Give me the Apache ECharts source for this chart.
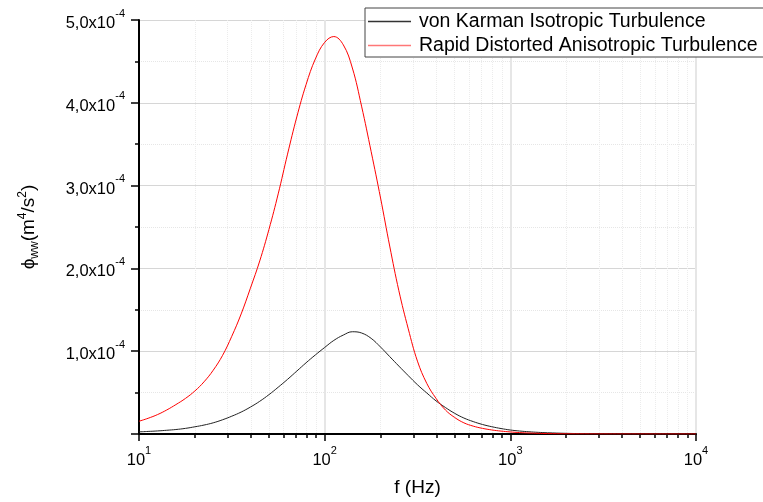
<!DOCTYPE html>
<html>
<head>
<meta charset="utf-8">
<script src="https://cdn.jsdelivr.net/npm/echarts@6/dist/echarts.min.js"></script>
<style>html,body{margin:0;padding:0;background:#fff}#c{width:763px;height:502px}</style>
</head>
<body>
<div id="c"></div>
<script>
// frequencies (Hz)
const freqs = [10,11.2,12.6,14.1,15.8,17.8,20,22.4,25.1,28.2,31.6,35.5,39.8,44.7,50.1,56.2,63.1,70.8,79.4,89.1,
  100,112,126,141,158,178,200,224,251,282,316,355,398,447,501,562,631,708,794,891,
  1000,1122,1259,1413,1585,1995,2512,3162,3981,6310,10000];
// values in units of 1e-4 m^4/s^2
const vonKarman = [0.026,0.031,0.037,0.045,0.054,0.068,0.087,0.108,0.135,0.172,0.215,0.265,0.325,0.395,0.475,0.565,0.66,0.76,0.86,0.955,
  1.045,1.13,1.195,1.235,1.22,1.155,1.05,0.935,0.82,0.705,0.595,0.495,0.40,0.32,0.25,0.193,0.15,0.115,0.088,0.066,
  0.048,0.036,0.027,0.02,0.015,0.008,0.004,0.002,0.001,0.0003,0.0001];
const rapidDistorted = [0.154,0.19,0.235,0.29,0.355,0.43,0.52,0.63,0.77,0.95,1.18,1.45,1.76,2.09,2.47,2.9,3.38,3.83,4.22,4.53,
  4.73,4.80,4.70,4.42,3.96,3.41,2.85,2.27,1.73,1.27,0.88,0.61,0.43,0.29,0.20,0.135,0.095,0.068,0.049,0.035,
  0.025,0.017,0.012,0.008,0.005,0.002,0.001,0.0004,0.0001,0,0];
const seriesNames = ['von Karman Isotropic Turbulence','Rapid Distorted Anisotropic Turbulence'];
const yTickText = {1:'1,0',2:'2,0',3:'3,0',4:'4,0',5:'5,0'};
const xTickText = {10:'1',100:'2',1000:'3',10000:'4'};

const FONT = 'Liberation Sans, Arial, sans-serif';
const chart = echarts.init(document.getElementById('c'));
const zip = (a) => freqs.map((f, i) => [f, a[i]]);
chart.setOption({
  animation: false,
  backgroundColor: '#fff',
  textStyle: {fontFamily: FONT},
  grid: {left: 139, right: 67, top: 20, bottom: 66.5, containLabel: false},
  legend: {
    orient: 'vertical', left: 365, top: 8,
    padding: [3, 40, 1, 3], itemGap: 3,
    itemWidth: 43, itemHeight: 1.5,
    backgroundColor: '#fff', borderColor: '#444', borderWidth: 1,
    textStyle: {fontSize: 19.5, color: '#000', fontFamily: FONT, padding: [0, 0, 0, 3], lineHeight: 21},
    data: [
      {name: seriesNames[0], icon: 'rect', itemStyle: {color: '#333333'}},
      {name: seriesNames[1], icon: 'rect', itemStyle: {color: '#ff7777'}}
    ]
  },
  xAxis: {
    type: 'log', logBase: 10, min: 10, max: 10000,
    name: 'f (Hz)', nameLocation: 'middle', nameGap: 44,
    nameTextStyle: {fontSize: 19, color: '#000', fontFamily: FONT},
    axisLine: {lineStyle: {color: '#000', width: 2}},
    axisTick: {show: true, inside: false, length: 7, lineStyle: {color: '#000', width: 1.5}},
    minorTick: {show: true, splitNumber: 9, length: 4, lineStyle: {color: '#000', width: 1.5}},
    splitLine: {show: true, lineStyle: {color: '#e6e6e6', width: 2}},
    minorSplitLine: {show: true, lineStyle: {color: '#ececec', width: 1, type: 'dotted'}},
    axisLabel: {
      margin: 11, color: '#000',
      formatter: v => '{b|10}{s|' + xTickText[Math.round(v)] + '}',
      rich: {
        b: {fontSize: 16.5, color: '#000', fontFamily: FONT, lineHeight: 24, verticalAlign: 'bottom'},
        s: {fontSize: 11, color: '#000', fontFamily: FONT, lineHeight: 24, verticalAlign: 'top'}
      }
    }
  },
  yAxis: {
    type: 'value', min: 0, max: 5, interval: 1,
    name: '{a|ϕ}{sub|ww}{a|(m}{sup|4}{a|/s}{sup|2}{a|)}',
    nameLocation: 'middle', nameGap: 96, nameRotate: 90,
    nameTextStyle: {
      color: '#000', fontFamily: FONT,
      rich: {
        a: {fontSize: 19, color: '#000', fontFamily: FONT, lineHeight: 28, verticalAlign: 'middle'},
        sub: {fontSize: 12, color: '#000', fontFamily: FONT, lineHeight: 28, verticalAlign: 'bottom', padding: [0,0,2,0]},
        sup: {fontSize: 12, color: '#000', fontFamily: FONT, lineHeight: 28, verticalAlign: 'top', padding: [2,0,0,0]}
      }
    },
    axisLine: {show: true, lineStyle: {color: '#000', width: 2}},
    axisTick: {show: true, inside: false, length: 8, lineStyle: {color: '#000', width: 1.5}},
    minorTick: {show: true, splitNumber: 2, length: 4, lineStyle: {color: '#000', width: 1.5}},
    splitLine: {show: true, lineStyle: {color: '#d6d6d6', width: 1}},
    minorSplitLine: {show: true, lineStyle: {color: '#e6e6e6', width: 1, type: 'dotted'}},
    axisLabel: {
      margin: 14, color: '#000',
      formatter: v => v === 0 ? '' : '{n|' + yTickText[Math.round(v)] + 'x10}{s|-4}',
      rich: {
        n: {fontSize: 16.5, color: '#000', fontFamily: FONT, lineHeight: 24, verticalAlign: 'bottom'},
        s: {fontSize: 11, color: '#000', fontFamily: FONT, lineHeight: 24, verticalAlign: 'top'}
      }
    }
  },
  series: [
    {name: seriesNames[0], type: 'line', data: zip(vonKarman), smooth: 0.4, symbol: 'none',
     lineStyle: {color: '#222', width: 1}, itemStyle: {color: '#222'}},
    {name: seriesNames[1], type: 'line', data: zip(rapidDistorted), smooth: 0.4, symbol: 'none',
     lineStyle: {color: '#ff0000', width: 1}, itemStyle: {color: '#ff0000'}}
  ]
});
</script>
</body>
</html>
